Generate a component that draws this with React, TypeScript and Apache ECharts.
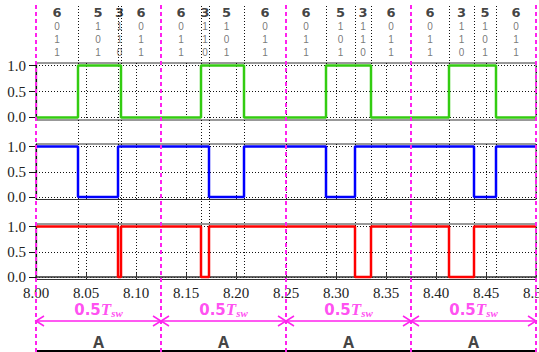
import React, { useEffect, useRef } from "react";
import * as echarts from "echarts";

// ---- data ----
const vectorStarts = [8.0, 8.042, 8.082, 8.085, 8.125, 8.165, 8.173, 8.208, 8.25, 8.29, 8.319, 8.335, 8.375, 8.413, 8.438, 8.46];
const endTime = 8.5;
const vectorCodes = ["6", "5", "3", "6", "6", "3", "5", "6", "6", "5", "3", "6", "6", "3", "5", "6"];
const stateA = [0, 1, 1, 0, 0, 1, 1, 0, 0, 1, 1, 0, 0, 1, 1, 0];
const stateB = [1, 0, 1, 1, 1, 1, 0, 1, 1, 0, 1, 1, 1, 1, 0, 1];
const stateC = [1, 1, 0, 1, 1, 0, 1, 1, 1, 1, 0, 1, 1, 0, 1, 1];
const halfPeriodBounds = [8.0, 8.125, 8.25, 8.375, 8.5];
const halfPeriodName = "A";
const yTicks = [0, 0.5, 1];

const MAGENTA = "#ff22ee";

export default function App() {
  const ref = useRef<HTMLDivElement>(null);
  useEffect(() => {
    const chart = echarts.init(ref.current!, null, { renderer: "svg" });

    const plotGrids = [
      { top: 63, height: 57 },
      { top: 144, height: 55.5 },
      { top: 224, height: 55.5 },
    ];
    const signals = [
      { states: stateA, color: "#33cc11" },
      { states: stateB, color: "#0000ff" },
      { states: stateC, color: "#ff0000" },
    ];
    const stepData = (s: number[]) =>
      s.map((v, i) => [vectorStarts[i], v]).concat([[endTime, s[s.length - 1]]]);

    const dotted = { color: "#111", width: 1, type: [1, 2] as any };

    const grids: any[] = plotGrids.map((g) => ({
      left: 36,
      width: 500,
      top: g.top,
      height: g.height,
      show: true,
      borderColor: "#333",
      borderWidth: 1,
      backgroundColor: "transparent",
      outerBoundsMode: "none",
    }));
    grids.push({ left: 36, width: 500, top: 0, height: 352, outerBoundsMode: "none" });

    const xAxes: any[] = plotGrids.map((_, i) => ({
      type: "value",
      gridIndex: i,
      min: 8,
      max: 8.5,
      interval: 0.05,
      axisLine: { show: i === 2, lineStyle: { color: "#333", width: 1.5 } },
      axisTick: { show: i === 2, inside: true, length: 4, lineStyle: { color: "#333" } },
      axisLabel: {
        show: i === 2,
        margin: 6,
        fontFamily: "Liberation Serif",
        fontSize: 15,
        color: "#222",
        formatter: (v: number) => v.toFixed(2),
      },
      splitLine: { show: true, lineStyle: dotted },
    }));
    xAxes.push({ type: "value", gridIndex: 3, min: 8, max: 8.5, show: false });

    const yAxes: any[] = plotGrids.map((_, i) => ({
      type: "value",
      gridIndex: i,
      min: -0.05,
      max: 1.05,
      axisLine: { show: true, lineStyle: { color: "#111", width: 1.2 } },
      axisTick: { show: true, length: 7, customValues: yTicks, lineStyle: { color: "#111" } },
      axisLabel: {
        customValues: yTicks,
        margin: 10,
        fontFamily: "Liberation Serif",
        fontSize: 15,
        color: "#222",
        formatter: (v: number) => v.toFixed(1),
      },
      splitLine: { show: true, lineStyle: dotted },
    }));
    yAxes.push({ type: "value", gridIndex: 3, min: 0, max: 352, inverse: true, show: false });

    const series: any[] = signals.map((s, i) => ({
      type: "line",
      xAxisIndex: i,
      yAxisIndex: i,
      step: "end",
      data: stepData(s.states),
      showSymbol: false,
      symbol: "none",
      lineStyle: { color: s.color, width: 2.5 },
      z: 5,
      silent: true,
    }));

    // switching instants (dotted black verticals)
    const switchTimes = vectorStarts.filter((t) => !halfPeriodBounds.includes(t));
    series.push({
      type: "lines",
      coordinateSystem: "cartesian2d",
      xAxisIndex: 3,
      yAxisIndex: 3,
      polyline: false,
      silent: true,
      z: 1,
      lineStyle: { color: "#111", width: 1, type: [1, 2], opacity: 1 },
      data: switchTimes.map((t) => ({ coords: [[t, 6], [t, 279]] })),
    });
    // half-period boundaries (magenta dashed)
    series.push({
      type: "lines",
      coordinateSystem: "cartesian2d",
      xAxisIndex: 3,
      yAxisIndex: 3,
      polyline: false,
      silent: true,
      z: 6,
      lineStyle: { color: MAGENTA, width: 2, type: [4, 3], opacity: 1 },
      data: halfPeriodBounds.map((t) => ({ coords: [[t, 5], [t, 352]] })),
    });
    // bottom black line
    series.push({
      type: "lines",
      coordinateSystem: "cartesian2d",
      xAxisIndex: 3,
      yAxisIndex: 3,
      polyline: false,
      silent: true,
      z: 2,
      lineStyle: { color: "#000", width: 2, type: "solid", opacity: 1 },
      data: [{ coords: [[halfPeriodBounds[0], 351], [halfPeriodBounds[halfPeriodBounds.length - 1], 351]] }],
    });
    // double arrows
    const arrowY = 321;
    series.push({
      type: "custom",
      xAxisIndex: 3,
      yAxisIndex: 3,
      silent: true,
      z: 7,
      data: halfPeriodBounds.slice(0, -1).map((b, i) => [b, halfPeriodBounds[i + 1]]),
      renderItem: (_p: any, api: any) => {
        const a = api.coord([api.value(0), arrowY]);
        const b = api.coord([api.value(1), arrowY]);
        const w = 8, h = 5;
        const st = { stroke: MAGENTA, lineWidth: 1.5, fill: "none" };
        return {
          type: "group",
          children: [
            { type: "line", shape: { x1: a[0], y1: a[1], x2: b[0], y2: b[1] }, style: st },
            { type: "polyline", shape: { points: [[a[0] + w, a[1] - h], [a[0], a[1]], [a[0] + w, a[1] + h]] }, style: st },
            { type: "polyline", shape: { points: [[b[0] - w, b[1] - h], [b[0], b[1]], [b[0] - w, b[1] + h]] }, style: st },
          ],
        };
      },
    });

    // vector labels on top: one row for the code, three rows for the bits
    const midOf = (i: number) =>
      (vectorStarts[i] + (i + 1 < vectorStarts.length ? vectorStarts[i + 1] : endTime)) / 2;
    const textRow = (rowY: number, texts: string[], style: any) => ({
      type: "scatter",
      xAxisIndex: 3,
      yAxisIndex: 3,
      symbolSize: 1,
      itemStyle: { color: "transparent" },
      silent: true,
      z: 8,
      label: { show: true, position: "inside", formatter: (p: any) => texts[p.dataIndex], ...style },
      data: texts.map((_, i) => [midOf(i), rowY]),
    });
    const codeStyle = { fontFamily: "DejaVu Sans", fontWeight: "bold", fontSize: 13, lineHeight: 11, color: "#111" };
    const bitStyle = { fontFamily: "Liberation Sans", fontSize: 10, lineHeight: 10, color: "#555" };
    series.push(textRow(12, vectorCodes, codeStyle));
    series.push(textRow(26.5, stateA.map(String), bitStyle));
    series.push(textRow(39.5, stateB.map(String), bitStyle));
    series.push(textRow(52.5, stateC.map(String), bitStyle));

    // 0.5 Tsw labels and A labels
    const mids = halfPeriodBounds.slice(0, -1).map((b, i) => (b + halfPeriodBounds[i + 1]) / 2);
    series.push({
      type: "scatter",
      xAxisIndex: 3,
      yAxisIndex: 3,
      symbolSize: 1,
      itemStyle: { color: "transparent" },
      silent: true,
      z: 8,
      label: {
        show: true,
        position: "inside",
        formatter: "{n|0.5}{t|T}{s|sw}",
        rich: {
          n: { fontFamily: "DejaVu Sans", fontWeight: "bold", fontSize: 15, lineHeight: 14, color: MAGENTA },
          t: { fontFamily: "Liberation Serif", fontWeight: "bold", fontStyle: "italic", fontSize: 17, lineHeight: 14, color: MAGENTA },
          s: { fontFamily: "Liberation Serif", fontWeight: "bold", fontStyle: "italic", fontSize: 11, lineHeight: 10, color: MAGENTA, padding: [7, 0, 0, 0] },
        },
      },
      data: mids.map((m) => [m, 309.5]),
    });
    series.push({
      type: "scatter",
      xAxisIndex: 3,
      yAxisIndex: 3,
      symbolSize: 1,
      itemStyle: { color: "transparent" },
      silent: true,
      z: 8,
      label: {
        show: true,
        position: "inside",
        formatter: halfPeriodName,
        fontFamily: "Noto Sans",
        fontWeight: "bold",
        fontSize: 16,
        color: "#111",
      },
      data: mids.map((m) => [m, 342]),
    });

    chart.setOption({
      animation: false,
      backgroundColor: "#fff",
      grid: grids,
      xAxis: xAxes,
      yAxis: yAxes,
      series,
    });
    return () => chart.dispose();
  }, []);
  return (
    <div
      ref={ref}
      style={{ position: "absolute", left: 0, top: 0, width: 539, height: 352, background: "#fff" }}
    />
  );
}
